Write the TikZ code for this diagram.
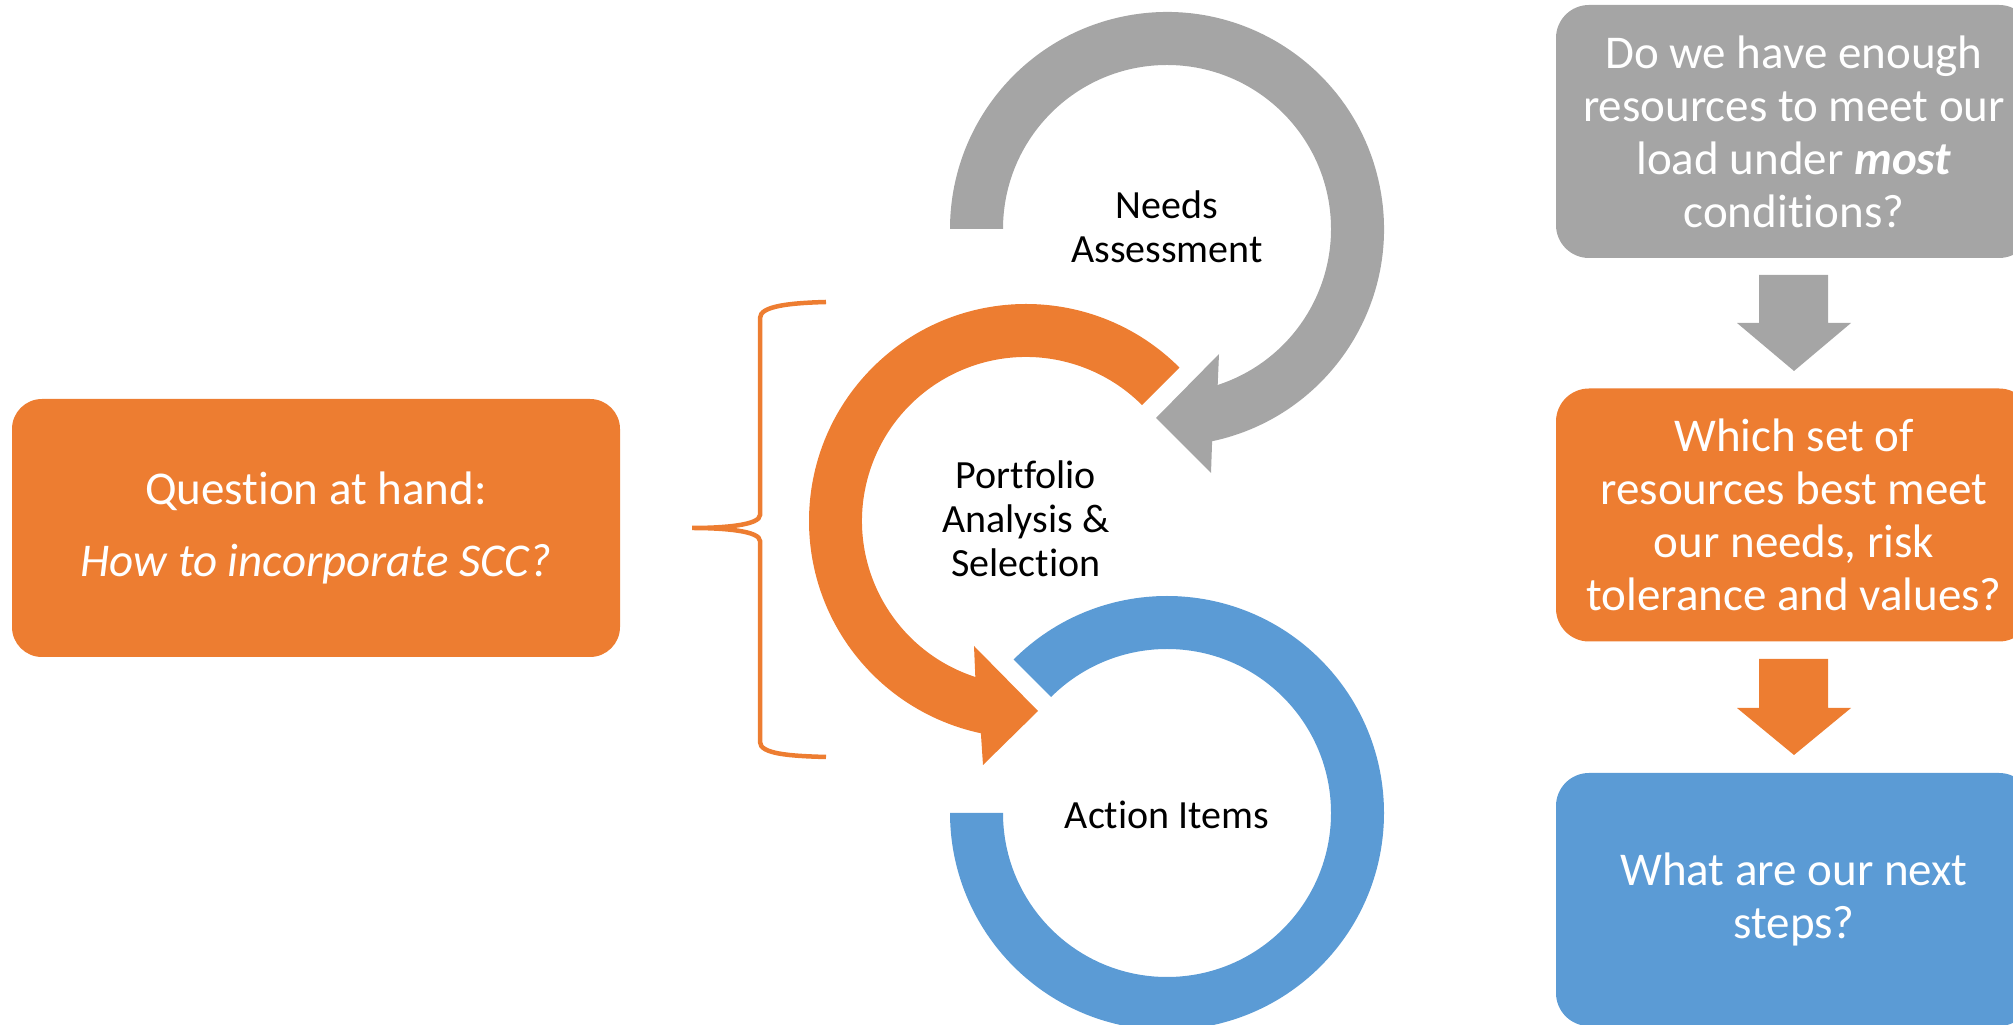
\documentclass[tikz,border=0pt]{standalone}
\usepackage{fontspec}
\setmainfont[Ligatures={NoCommon}]{Carlito}
\definecolor{cgray}{HTML}{A5A5A5}
\definecolor{corange}{HTML}{ED7D31}
\definecolor{cblue}{HTML}{5B9BD5}
\begin{document}
\begin{tikzpicture}[x=1pt,y=1pt,
  circtext/.style={font=\fontsize{40}{44}\selectfont, align=center, text=black, inner sep=0pt},
  boxtext/.style={font=\fontsize{47}{53}\selectfont, align=center, text=white, inner sep=0pt},
  qbox/.style={boxtext, fill=corange, rounded corners=30pt, minimum width=608pt, minimum height=258pt},
  flowbox/.style={boxtext, rounded corners=33pt, minimum width=476pt, minimum height=253pt},
  bracketline/.style={draw=corange, line width=4.5pt},
]
\useasboundingbox (0,0) rectangle (2013,1025);
\clip (0,0) rectangle (2013,1025);

\coordinate (G) at (1167,796);
\coordinate (O) at (1026,504);
\coordinate (B) at (1167,212);

% gray circular arrow
\fill[cgray] ([shift={(180:164)}]G) arc[start angle=180, end angle=-72, radius=164]
  -- (1219,671) -- (1156,607) -- (1211,552)
  -- ([shift={(-78:217)}]G) arc[start angle=-78, end angle=180, radius=217] -- cycle;

% orange circular arrow
\fill[corange] ([shift={(45:217)}]O) arc[start angle=45, end angle=258, radius=217]
  -- (983,260) -- (1038,314) -- (974,379)
  -- ([shift={(252:164)}]O) arc[start angle=252, end angle=45, radius=164] -- cycle;

% blue ring
\fill[cblue] ([shift={(135:217)}]B) arc[start angle=135, end angle=-180, radius=217]
  -- ([shift={(180:164)}]B) arc[start angle=-180, end angle=135, radius=164] -- cycle;

% labels in rings
\node[circtext] (na) at (1167,798) {Needs\\Assessment};
\node[circtext] (pa) at (1026,506) {Portfolio\\Analysis \&\\Selection};
\node[circtext] (ai) at (1167,210) {Action Items};

% brace
\path[bracketline] (826,723) .. controls (790,722) and (760,719) .. (760,707)
  -- (760,510) .. controls (760,500) and (725,497) .. (692,497)
  .. controls (725,497) and (760,494) .. (760,484)
  -- (760,283) .. controls (760,271) and (790,269) .. (826,268);

% question box
\node[qbox] (q) at (316,497) {Question at hand:\\[19pt]\textit{How to incorporate SCC?}};

% right column
\node[flowbox, fill=cgray] (r1) at (1794,893.5) {Do we have enough\\resources to meet our\\load under \textbf{\textit{most}}\\conditions?};
\node[flowbox, fill=corange] (r2) at (1794,510) {Which set of\\resources best meet\\our needs, risk\\tolerance and values?};
\node[flowbox, fill=cblue] (r3) at (1794,125.5) {What are our next\\steps?};

\fill[cgray] (1759,750) -- (1828,750) -- (1828,702) -- (1851,702) -- (1794,654) -- (1737,702) -- (1759,702) -- cycle;
\fill[corange] (1759,366) -- (1828,366) -- (1828,317) -- (1851,317) -- (1794,270) -- (1737,317) -- (1759,317) -- cycle;
\end{tikzpicture}
\end{document}
